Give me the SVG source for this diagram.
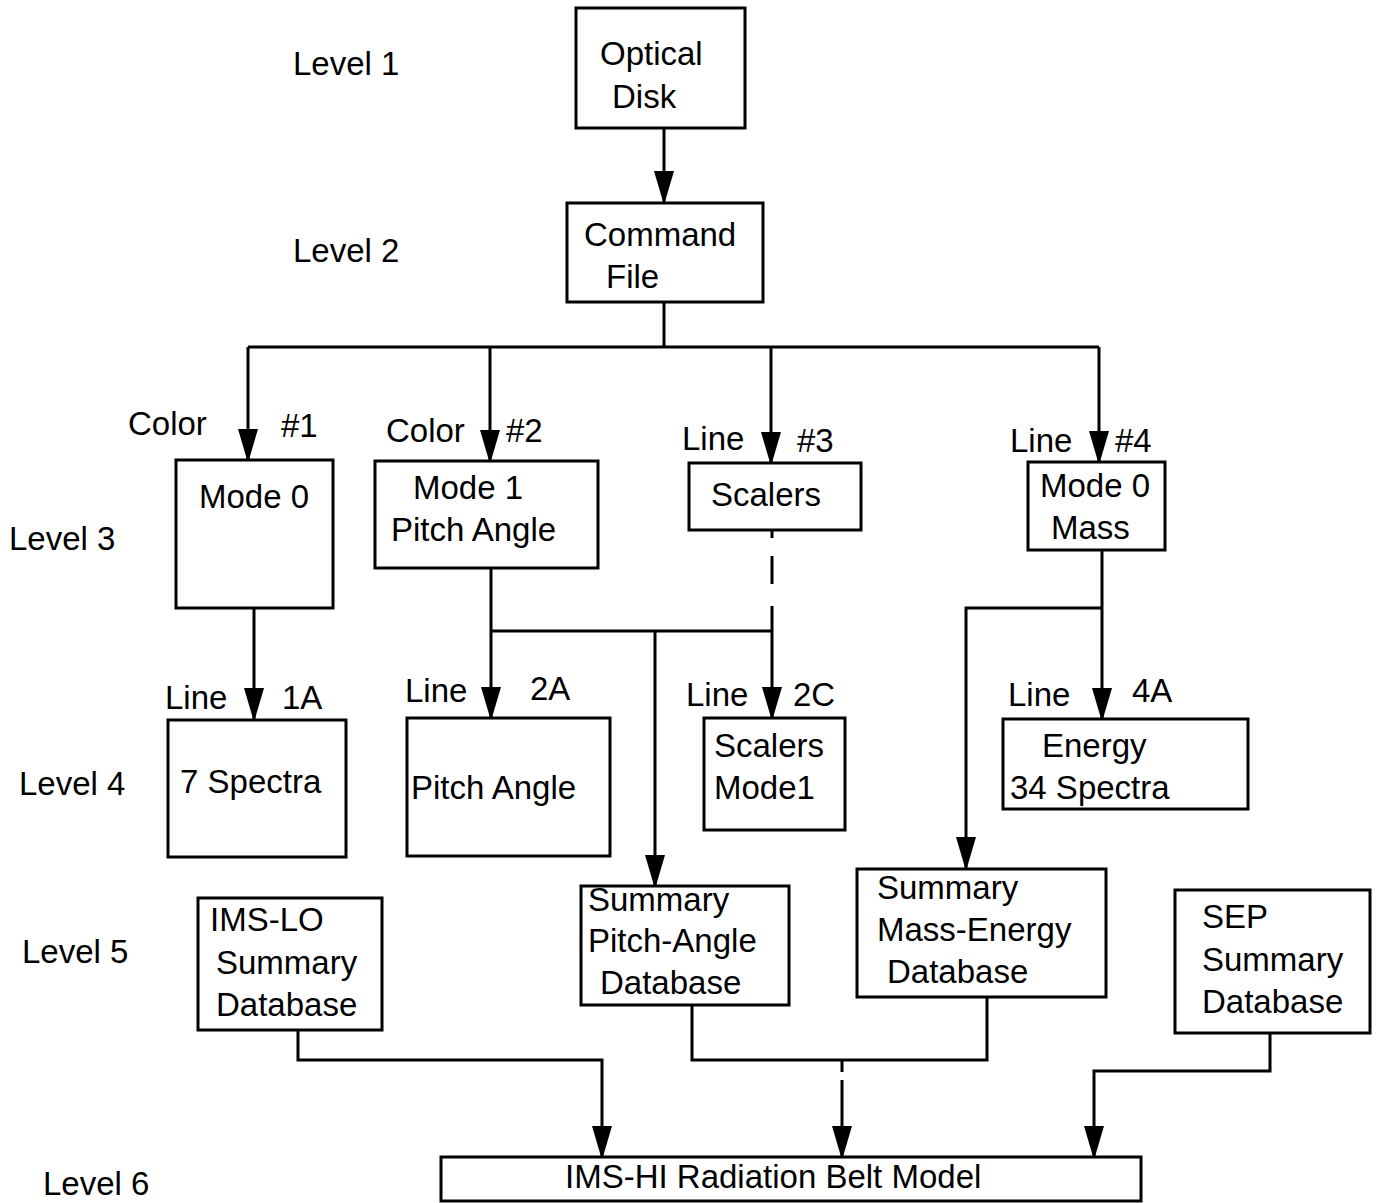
<svg xmlns="http://www.w3.org/2000/svg" width="1378" height="1203" viewBox="0 0 1378 1203">
<style>
.box{fill:#fff;stroke:#000;stroke-width:3}
.t{font-family:"Liberation Sans",Arial,sans-serif;font-size:33px;fill:#000}
.c{fill:none;stroke:#000;stroke-width:3}
.a{marker-end:url(#ah)}
</style>
<defs>
<marker id="ah" viewBox="0 0 34 20" refX="32" refY="10" markerWidth="34" markerHeight="20" markerUnits="userSpaceOnUse" orient="auto">
<path d="M0,0 L34,10 L0,20 z" fill="#000"/>
</marker>
</defs>
<rect width="1378" height="1203" fill="#fff"/>
<g id="levels">
<text class="t" x="293" y="75">Level 1</text>
<text class="t" x="293" y="262">Level 2</text>
<text class="t" x="9" y="550">Level 3</text>
<text class="t" x="19" y="795">Level 4</text>
<text class="t" x="22" y="963">Level 5</text>
<text class="t" x="43" y="1195">Level 6</text>
</g>
<g id="connectors">
<path class="c a" d="M664,128 V203"/>
<path class="c" d="M664,302 V347 M248,347 H1099"/>
<path class="c a" d="M248,347 V461"/>
<path class="c a" d="M490,347 V462"/>
<path class="c a" d="M771,347 V464"/>
<path class="c a" d="M1099,347 V463"/>
<path class="c a" d="M254,608 V720"/>
<path class="c a" d="M491,568 V719"/>
<path class="c" d="M491,631 H772"/>
<path class="c" d="M772,530 V538 M772,556 V584"/>
<path class="c a" d="M772,606 V719"/>
<path class="c a" d="M655,631 V887"/>
<path class="c a" d="M1102,550 V720"/>
<path class="c a" d="M1102,608 H966 V869"/>
<path class="c a" d="M298,1030 V1060 H602 V1158"/>
<path class="c" d="M692,1005 V1060 H987 V997"/>
<path class="c" d="M842,1060 V1072"/>
<path class="c a" d="M842,1080 V1158"/>
<path class="c a" d="M1270,1033 V1071 H1094 V1158"/>
<text class="t" x="128" y="435">Color</text>
<text class="t" x="281" y="437">#1</text>
<text class="t" x="386" y="442">Color</text>
<text class="t" x="506" y="442">#2</text>
<text class="t" x="682" y="450">Line</text>
<text class="t" x="797" y="452">#3</text>
<text class="t" x="1010" y="452">Line</text>
<text class="t" x="1115" y="452">#4</text>
<text class="t" x="165" y="709">Line</text>
<text class="t" x="282" y="709">1A</text>
<text class="t" x="405" y="702">Line</text>
<text class="t" x="530" y="700">2A</text>
<text class="t" x="686" y="706">Line</text>
<text class="t" x="793" y="706">2C</text>
<text class="t" x="1008" y="706">Line</text>
<text class="t" x="1132" y="702">4A</text>
</g>
<g id="optical-disk">
<rect class="box" x="576" y="8" width="169" height="120"/>
<text class="t" x="600" y="65">Optical</text>
<text class="t" x="612" y="108">Disk</text>
</g>
<g id="command-file">
<rect class="box" x="567" y="203" width="196" height="99"/>
<text class="t" x="584" y="246">Command</text>
<text class="t" x="606" y="288">File</text>
</g>
<g id="mode0">
<rect class="box" x="176" y="460" width="157" height="148"/>
<text class="t" x="199" y="508">Mode 0</text>
</g>
<g id="mode1">
<rect class="box" x="375" y="461" width="223" height="107"/>
<text class="t" x="413" y="499">Mode 1</text>
<text class="t" x="391" y="541">Pitch Angle</text>
</g>
<g id="scalers">
<rect class="box" x="689" y="463" width="172" height="67"/>
<text class="t" x="711" y="506">Scalers</text>
</g>
<g id="mode0-mass">
<rect class="box" x="1028" y="462" width="137" height="88"/>
<text class="t" x="1040" y="497">Mode 0</text>
<text class="t" x="1051" y="539">Mass</text>
</g>
<g id="spectra7">
<rect class="box" x="168" y="720" width="178" height="137"/>
<text class="t" x="180" y="793">7 Spectra</text>
</g>
<g id="pitch-angle">
<rect class="box" x="407" y="718" width="203" height="138"/>
<text class="t" x="411" y="799">Pitch Angle</text>
</g>
<g id="scalers-mode1">
<rect class="box" x="704" y="718" width="141" height="112"/>
<text class="t" x="714" y="757">Scalers</text>
<text class="t" x="714" y="799">Mode1</text>
</g>
<g id="energy">
<rect class="box" x="1003" y="719" width="245" height="90"/>
<text class="t" x="1042" y="757">Energy</text>
<text class="t" x="1010" y="799">34 Spectra</text>
</g>
<g id="ims-lo">
<rect class="box" x="198" y="898" width="184" height="132"/>
<text class="t" x="210" y="931">IMS-LO</text>
<text class="t" x="216" y="974">Summary</text>
<text class="t" x="216" y="1016">Database</text>
</g>
<g id="summary-pitch">
<rect class="box" x="581" y="886" width="208" height="119"/>
<text class="t" x="588" y="911">Summary</text>
<text class="t" x="588" y="952">Pitch-Angle</text>
<text class="t" x="600" y="994">Database</text>
</g>
<g id="summary-mass">
<rect class="box" x="857" y="869" width="249" height="128"/>
<text class="t" x="877" y="899">Summary</text>
<text class="t" x="877" y="941">Mass-Energy</text>
<text class="t" x="887" y="983">Database</text>
</g>
<g id="sep">
<rect class="box" x="1175" y="890" width="195" height="143"/>
<text class="t" x="1202" y="928">SEP</text>
<text class="t" x="1202" y="971">Summary</text>
<text class="t" x="1202" y="1013">Database</text>
</g>
<g id="ims-hi">
<rect class="box" x="441" y="1157" width="700" height="44"/>
<text class="t" x="565" y="1188">IMS-HI Radiation Belt Model</text>
</g>
</svg>
